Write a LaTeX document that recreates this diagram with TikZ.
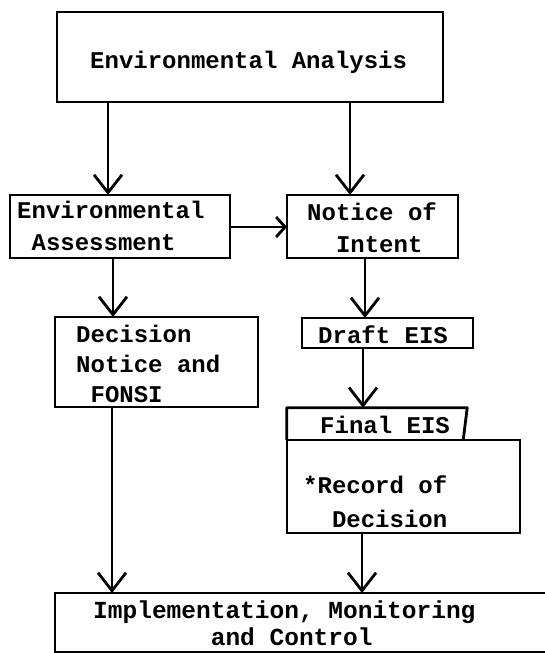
\documentclass[tikz,border=0pt]{standalone}
\usepackage{fontspec}
\setmonofont{Liberation Mono}
\usetikzlibrary{arrows.meta}
\newcommand\chsp{\hphantom{x}}
\tikzset{
  boxn/.style={draw, rectangle, line width=2.8pt, inner sep=0pt, outer sep=0pt},
  txt/.style={inner sep=0pt, anchor=base west, align=left, font=\ttfamily\bfseries\fontsize{24}{32}\selectfont},
  arr/.style={line width=2.8pt, -{Straight Barb[length=18pt,width=28pt]}},
  arrs/.style={line width=2.8pt, -{Straight Barb[length=9pt,width=20pt]}}
}
\begin{document}
\begin{tikzpicture}[x=1pt,y=-1pt]
\useasboundingbox (0,0) rectangle (545,653);
\clip (0,0) rectangle (545,653);
% boxes
\node[boxn, minimum width=386pt, minimum height=90pt] (nEA) at (250,57) {};
\node[boxn, minimum width=220pt, minimum height=63pt] (nEAss) at (120,226.5) {};
\node[boxn, minimum width=171pt, minimum height=63pt] (nNOI) at (372.5,226.5) {};
\node[boxn, minimum width=203pt, minimum height=90pt] (nDec) at (156.5,362) {};
\node[boxn, minimum width=171pt, minimum height=30pt] (nDraft) at (387.5,333) {};
\node[rectangle, inner sep=0pt, minimum width=180pt, minimum height=32pt] (nTab) at (377,424) {};
\draw[line width=2.8pt, line join=round] (nTab.south west) -- (nTab.north west) -- (nTab.north east) -- ([xshift=-4pt]nTab.south east);
\node[boxn, minimum width=233pt, minimum height=93pt] (nRec) at (403.5,486.5) {};
\node[boxn, minimum width=510pt, minimum height=59pt] (nImp) at (310,622.5) {};
% texts (base anchor = baseline of last line)
\node[txt] (tEA) at (90,68) {Environmental Analysis};
\node[txt] (tEAss) at (17,250) {Environmental\\\chsp Assessment};
\node[txt] (tNOI) at (307,252) {Notice of\\\chsp\chsp Intent};
\node[txt, font=\ttfamily\bfseries\fontsize{24}{30}\selectfont] (tDec) at (76,402) {Decision\\Notice and\\\chsp FONSI};
\node[txt] (tDraft) at (318,343) {Draft EIS};
\node[txt] (tFin) at (320,433) {Final EIS};
\node[txt, font=\ttfamily\bfseries\fontsize{24}{34}\selectfont] (tRec) at (303,527) {*Record of\\\chsp\chsp Decision};
\node[txt, font=\ttfamily\bfseries\fontsize{24.5}{27}\selectfont] (tImp) at (93,645) {Implementation, Monitoring\\\chsp\chsp\chsp\chsp\chsp\chsp\chsp\chsp and Control};
% connectors
\draw[arr] (nEA.south -| 108,0) -- (nEAss.north -| 108,0);
\draw[arr] (nEA.south -| 350,0) -- (nNOI.north -| 350,0);
\draw[arrs] (nEAss.east |- 0,227) -- (nNOI.west |- 0,227);
\draw[arr] (nEAss.south -| 113,0) -- (nDec.north -| 113,0);
\draw[arr] (nNOI.south -| 365,0) -- (nDraft.north -| 365,0);
\draw[arr] (nDraft.south -| 363,0) -- (nTab.north -| 363,0);
\draw[arr] (nDec.south -| 112,0) -- (nImp.north -| 112,0);
\draw[arr] (nRec.south -| 362,0) -- (nImp.north -| 362,0);
\end{tikzpicture}
\end{document}
